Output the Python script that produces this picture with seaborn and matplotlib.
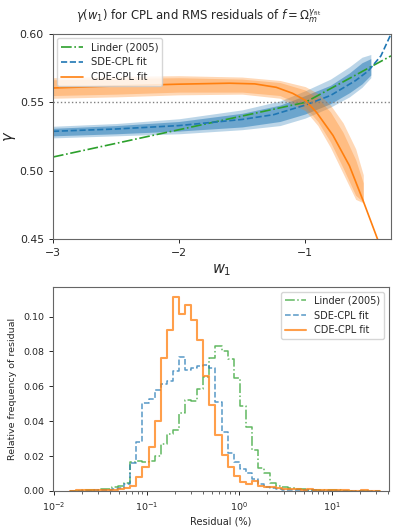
import numpy as np
import pandas as pd
import matplotlib
matplotlib.use("Agg")
import matplotlib.pyplot as plt
import seaborn as sns

# --- top panel: gamma(w1) curves ---
linder_w1 = [-3.0, -1.0, -0.32]
linder_gamma = [0.510, 0.550, 0.584]

sde_w1 = [-3.0, -2.5, -2.0, -1.5, -1.25, -1.0, -0.8, -0.6, -0.5, -0.4, -0.32]
sde_gamma = [0.5288, 0.5305, 0.533, 0.5375, 0.541, 0.548, 0.555, 0.566, 0.573, 0.584, 0.600]

cde_w1 = [-3.0, -2.5, -2.0, -1.6, -1.4, -1.23, -1.1, -1.0, -0.91, -0.78, -0.65, -0.545, -0.427, -0.32]
cde_gamma = [0.5605, 0.562, 0.5633, 0.564, 0.5635, 0.561, 0.5566, 0.5515, 0.5426, 0.5258, 0.5037, 0.479, 0.450, 0.418]

# confidence bands (1 and 2 sigma)
sde_band_w1 = [-3.0, -2.5, -2.0, -1.5, -1.2, -1.0, -0.8, -0.65, -0.55, -0.48]
sde_2s_lo = [0.524, 0.5255, 0.527, 0.530, 0.533, 0.5385, 0.5465, 0.554, 0.561, 0.568]
sde_2s_hi = [0.5325, 0.5345, 0.538, 0.5445, 0.551, 0.5585, 0.567, 0.576, 0.583, 0.585]
sde_1s_lo = [0.5255, 0.527, 0.529, 0.532, 0.536, 0.5415, 0.549, 0.557, 0.5635, 0.570]
sde_1s_hi = [0.531, 0.533, 0.536, 0.542, 0.548, 0.555, 0.5625, 0.5715, 0.579, 0.582]

cde_band_w1 = [-3.0, -2.5, -2.0, -1.5, -1.2, -1.0, -0.9, -0.8, -0.7, -0.6, -0.54]
cde_2s_hi = [0.568, 0.569, 0.5695, 0.5685, 0.566, 0.5615, 0.5565, 0.548, 0.535, 0.516, 0.497]
cde_2s_lo = [0.553, 0.554, 0.5555, 0.556, 0.553, 0.544, 0.533, 0.517, 0.498, 0.479, 0.4765]
cde_1s_hi = [0.5665, 0.5675, 0.568, 0.567, 0.5645, 0.559, 0.553, 0.543, 0.528, 0.508, 0.491]
cde_1s_lo = [0.555, 0.556, 0.5575, 0.5575, 0.555, 0.5465, 0.536, 0.521, 0.502, 0.482, 0.477]

# --- bottom panel: histogram of residuals (relative frequency per log bin) ---
log_edges = np.linspace(-1.833, 1.5126, 52)

linder_freq = [0, 0, 0.0003, 0.0005, 0.0007, 0.001, 0.0012, 0.002,
               0.003, 0.0045, 0.0165, 0.017, 0.0168, 0.017, 0.0203, 0.027,
               0.0328, 0.035, 0.0446, 0.0519, 0.0515, 0.0584, 0.0653, 0.0762,
               0.0833, 0.0805, 0.0755, 0.0648, 0.0489, 0.0366, 0.0236, 0.013,
               0.0102, 0.0044, 0.003, 0.002, 0.0015, 0.0012, 0.001, 0.0008,
               0.0006, 0.0005, 0.0004, 0.0003, 0.0003, 0.0002, 0.0002, 0.0001,
               0.0001, 0, 0]
sde_freq = [0, 0, 0, 0.0002, 0.0003, 0.0005, 0.0008, 0.001,
            0.0015, 0.004, 0.016, 0.0283, 0.0504, 0.0525, 0.058, 0.0613,
            0.0632, 0.0686, 0.0768, 0.0696, 0.0703, 0.0715, 0.0724, 0.0705,
            0.0513, 0.0337, 0.022, 0.0169, 0.0125, 0.0102, 0.0067, 0.0038,
            0.0025, 0.0015, 0.001, 0.0008, 0.0006, 0.0005, 0.0004, 0.0003,
            0.0003, 0.0002, 0.0002, 0.0001, 0.0001, 0, 0, 0,
            0, 0, 0]
cde_freq = [0.0002, 0.0003, 0.0004, 0.0004, 0.0005, 0.0005, 0.0007, 0.0008,
            0.001, 0.0015, 0.003, 0.0082, 0.0135, 0.0255, 0.040, 0.076,
            0.0925, 0.111, 0.1017, 0.1067, 0.098, 0.0864, 0.0657, 0.0494,
            0.0322, 0.0205, 0.0138, 0.0088, 0.0054, 0.004, 0.0056, 0.0027,
            0.0025, 0.0022, 0.0015, 0.0012, 0.001, 0.0012, 0.0008, 0.0009,
            0.0006, 0.0005, 0.0005, 0.0004, 0.0003, 0.0003, 0.0002, 0.0002,
            0.0003, 0.0002, 0.0001]

labels = ["Linder (2005)", "SDE-CPL fit", "CDE-CPL fit"]
colors = ["#2ca02c", "#1f77b4", "#ff7f0e"]
styles = ["-.", "--", "-"]

sns.set_style("ticks")
plt.rcParams["font.family"] = ["DejaVu Sans"]
plt.rcParams["axes.edgecolor"] = "0.4"
plt.rcParams["axes.linewidth"] = 0.8

fig = plt.figure(figsize=(3.97, 5.28), dpi=100)
ax1 = fig.add_axes([0.1335, 0.5473, 0.8514, 0.3883])
ax2 = fig.add_axes([0.1335, 0.0701, 0.8463, 0.3864])

# top panel
ax1.fill_between(sde_band_w1, sde_2s_lo, sde_2s_hi, color=colors[1], alpha=0.3, lw=0)
ax1.fill_between(sde_band_w1, sde_1s_lo, sde_1s_hi, color=colors[1], alpha=0.5, lw=0)
ax1.fill_between(cde_band_w1, cde_2s_lo, cde_2s_hi, color=colors[2], alpha=0.3, lw=0)
ax1.fill_between(cde_band_w1, cde_1s_lo, cde_1s_hi, color=colors[2], alpha=0.3, lw=0)

curves = [(linder_w1, linder_gamma), (sde_w1, sde_gamma), (cde_w1, cde_gamma)]
for (w, g), lab, c, ls in zip(curves, labels, colors, styles):
    sns.lineplot(x=w, y=g, ax=ax1, color=c, linestyle=ls, lw=1.2, label=lab)

ax1.axhline(0.55, color="0.5", ls=":", lw=1)
ax1.set_xlim(-3, -0.32)
ax1.set_ylim(0.45, 0.60)
ax1.set_xticks([-3, -2, -1])
ax1.set_yticks([0.45, 0.50, 0.55, 0.60])
ax1.set_xlabel("$w_1$", fontsize=10.5, labelpad=3)
ax1.set_ylabel(r"$\gamma$", fontsize=10.5, labelpad=1)
ax1.tick_params(labelsize=7.8, length=3, width=0.7)
ax1.legend(loc="upper left", fontsize=7.2, handlelength=2.2, borderaxespad=0.4)

# bottom panel (bins given in log10 units because of log_scale)
centers = 10 ** ((log_edges[:-1] + log_edges[1:]) / 2)
for freq, lab, c, ls in zip([linder_freq, sde_freq, cde_freq], labels, colors, styles):
    df = pd.DataFrame({"residual": centers, "freq": freq})
    sns.histplot(data=df, x="residual", weights="freq", bins=list(log_edges), log_scale=True,
                 element="step", fill=False, ax=ax2, color=c, linestyle=ls,
                 lw=1.5 if ls == "-" else 1.1, alpha=0.75, label=lab)

ax2.set_xlim(0.00975, 41)
ax2.set_ylim(0, 0.117)
ax2.set_yticks([0.0, 0.02, 0.04, 0.06, 0.08, 0.10])
ax2.set_xlabel("Residual (%)", fontsize=7, labelpad=3)
ax2.set_ylabel("Relative frequency of residual", fontsize=6.8)
ax2.tick_params(labelsize=6.8, length=3, width=0.7)
ax2.tick_params(which="minor", length=1.8, width=0.5)
ax2.legend(loc="upper right", fontsize=7, handlelength=2.2)

fig.suptitle(r"$\gamma(w_1)$ for CPL and RMS residuals of $f = \Omega_m^{\gamma_{\rm fit}}$",
             fontsize=8.4, y=0.985)

fig.savefig("out.png", dpi=100)
